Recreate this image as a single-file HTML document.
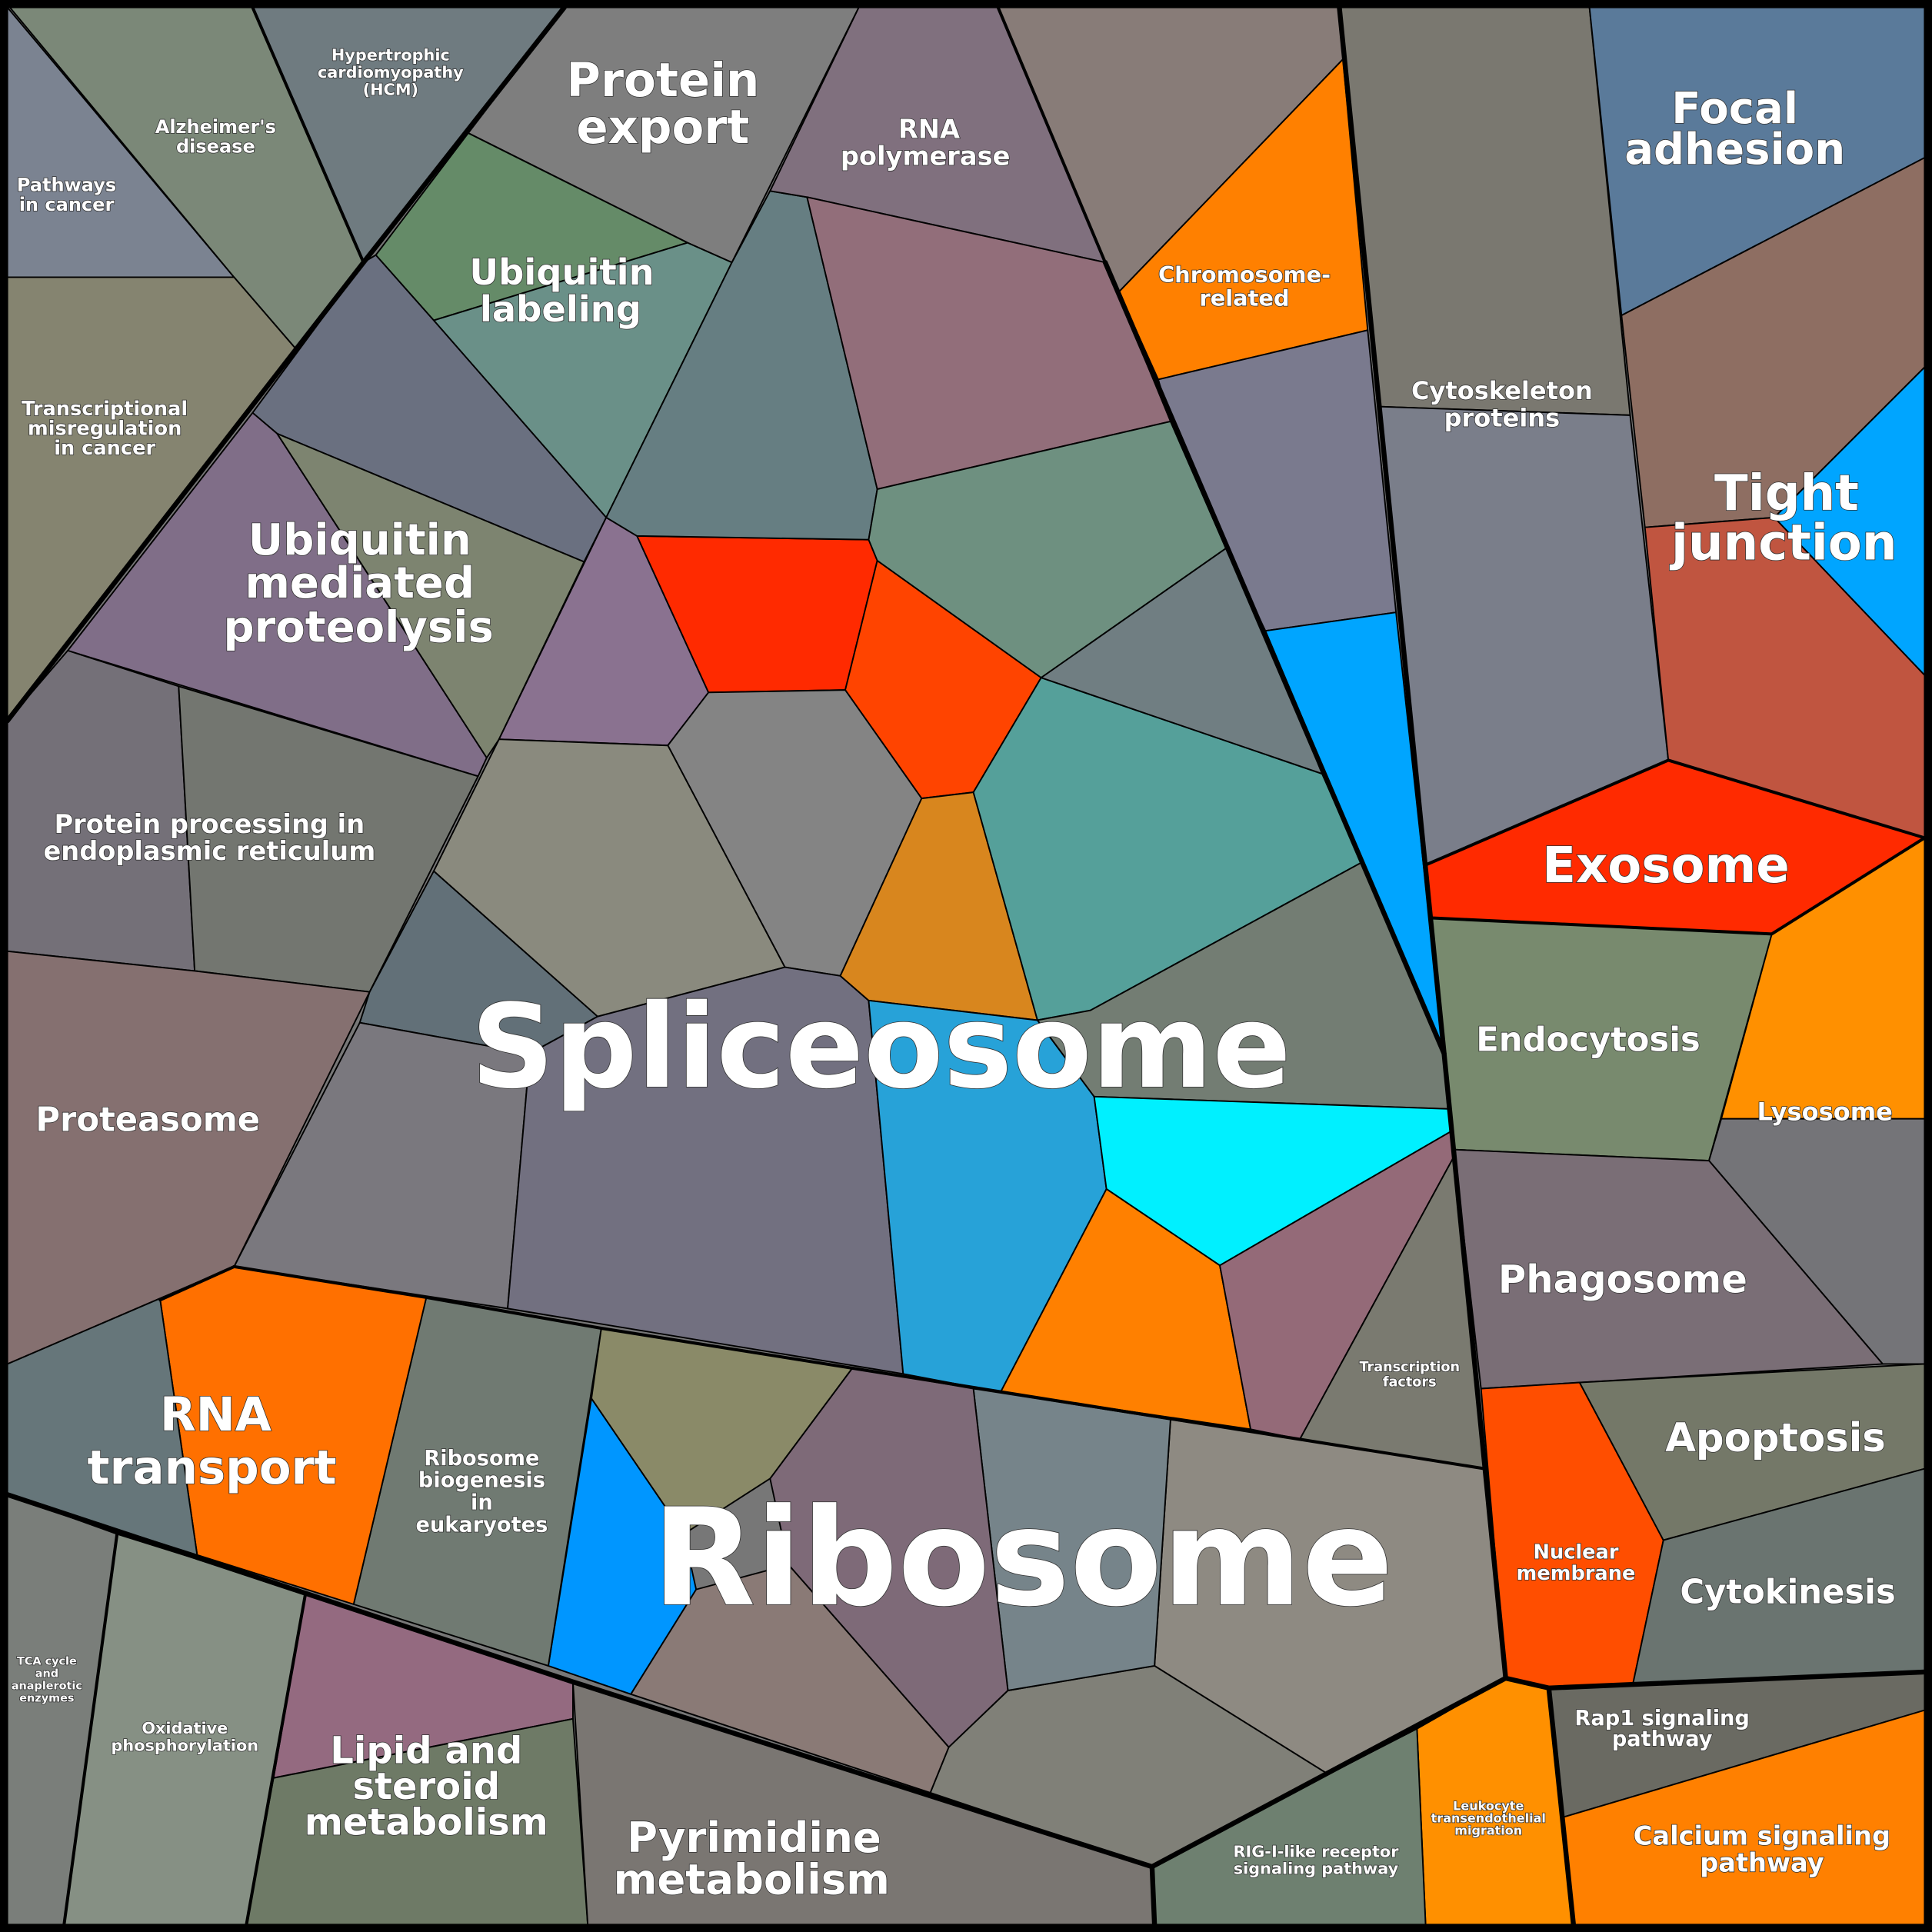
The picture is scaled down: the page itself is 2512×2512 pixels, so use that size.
<!DOCTYPE html>
<html><head><meta charset="utf-8"><style>
html,body{margin:0;padding:0;background:#000}
svg{display:block}
text{font-family:"DejaVu Sans","Liberation Sans",sans-serif;font-weight:bold;fill:#fff;text-anchor:middle;stroke:#333;stroke-width:1;paint-order:stroke}
polygon{stroke:#000;stroke-width:1.2;stroke-linejoin:round}
.t{fill:none;stroke:#000;stroke-width:4;stroke-linejoin:round;stroke-linecap:round}
.m{fill:none;stroke:#000;stroke-width:2.5;stroke-linejoin:round;stroke-linecap:round}
</style></head><body>
<svg width="2512" height="2512" viewBox="0 0 1568 1568" xmlns="http://www.w3.org/2000/svg">
<rect width="1568" height="1568" fill="#777"/>
<polygon fill="#7b8391" points="6,6 190,225 6,225"/>
<polygon fill="#7b8878" points="8,6 205,6 295,213 240,283 190,225"/>
<polygon fill="#6f7b80" points="205,6 458,6 295,213"/>
<polygon fill="#858470" points="6,225 190,225 240,283 6,585"/>
<polygon fill="#7e7e7e" points="458,6 697,6 594,213 558,197 380,108"/>
<polygon fill="#658b68" points="380,108 558,197 352,260 305,207"/>
<polygon fill="#6a9088" points="558,197 594,213 492,420 352,260"/>
<polygon fill="#6a7080" points="295,213 305,207 352,260 492,420 474,456 225,352 205,335"/>
<polygon fill="#806e88" points="205,335 225,352 395,615 388,630 55,528"/>
<polygon fill="#7d8470" points="225,352 474,456 405,600 395,615"/>
<polygon fill="#747078" points="6,585 55,528 145,557 158,788 6,772"/>
<polygon fill="#737670" points="145,557 388,630 300,805 158,788"/>
<polygon fill="#857070" points="6,772 158,788 300,805 190,1028 6,1107"/>
<polygon fill="#8a7290" points="492,420 517,435 575,562 542,605 405,600"/>
<polygon fill="#ff2a00" points="517,435 705,438 712,455 686,560 575,562"/>
<polygon fill="#ff4400" points="712,455 845,550 790,643 748,648 686,560"/>
<polygon fill="#848484" points="575,562 686,560 748,648 682,792 637,785 542,605"/>
<polygon fill="#8a8a7e" points="405,600 542,605 637,785 485,825 352,707"/>
<polygon fill="#627078" points="352,707 485,825 430,855 292,830 300,805"/>
<polygon fill="#7a787e" points="292,830 430,855 412,1062 190,1028"/>
<polygon fill="#727080" points="430,855 485,825 637,785 682,792 705,812 733,1115 412,1062"/>
<polygon fill="#d8861e" points="748,648 790,643 842,828 705,812 682,792"/>
<polygon fill="#27a2d8" points="705,812 842,828 888,890 898,965 812,1130 733,1115"/>
<polygon fill="#55a09a" points="790,643 845,550 1073,628 1105,700 885,820 842,828"/>
<polygon fill="#737d73" points="842,828 885,820 1105,700 1172,855 1175,900 888,890"/>
<polygon fill="#00f0ff" points="888,890 1175,900 1178,918 990,1027 898,965"/>
<polygon fill="#ff8000" points="898,965 990,1027 1015,1160 812,1130"/>
<polygon fill="#946a78" points="990,1027 1178,918 1182,935 1055,1168 1015,1160"/>
<polygon fill="#7a7a70" points="1182,935 1205,1192 1055,1168"/>
<polygon fill="#667e82" points="625,155 655,160 712,397 705,438 517,435 492,420 594,213"/>
<polygon fill="#80707e" points="697,6 810,6 897,213 655,160 625,155"/>
<polygon fill="#926e7a" points="655,160 897,213 950,342 712,397"/>
<polygon fill="#6e9080" points="712,397 950,342 995,445 845,550 712,455 705,438"/>
<polygon fill="#707e82" points="845,550 995,445 1027,512 1073,628"/>
<polygon fill="#887c78" points="810,6 1087,6 1090,48 908,237 897,213"/>
<polygon fill="#ff8000" points="1090,48 1110,268 940,308 908,237"/>
<polygon fill="#7a7a8e" points="940,308 1110,268 1133,497 1027,512 995,445 950,342"/>
<polygon fill="#00a5ff" points="1027,512 1133,497 1172,855"/>
<polygon fill="#7a7870" points="1087,6 1290,6 1323,337 1120,330"/>
<polygon fill="#7a7e8a" points="1120,330 1323,337 1354,617 1157,702"/>
<polygon fill="#5a7a9a" points="1290,6 1562,6 1562,128 1316,256"/>
<polygon fill="#8e6e62" points="1316,256 1562,128 1562,298 1440,420 1335,428"/>
<polygon fill="#00a5ff" points="1440,420 1562,298 1562,548"/>
<polygon fill="#c05540" points="1335,428 1440,420 1562,548 1562,680 1354,617"/>
<polygon fill="#ff2a00" points="1157,702 1354,617 1562,680 1438,758 1162,745"/>
<polygon fill="#788a6e" points="1162,745 1438,758 1387,942 1180,933"/>
<polygon fill="#ff9000" points="1438,758 1562,680 1562,908 1397,908"/>
<polygon fill="#747478" points="1397,908 1562,908 1562,1107 1528,1107 1387,942"/>
<polygon fill="#7a6e76" points="1180,933 1387,942 1528,1107 1202,1127"/>
<polygon fill="#ff4e00" points="1202,1127 1282,1122 1350,1250 1325,1368 1257,1370 1222,1362"/>
<polygon fill="#747868" points="1282,1122 1562,1107 1562,1192 1350,1250"/>
<polygon fill="#6a7470" points="1350,1250 1562,1192 1562,1357 1325,1368"/>
<polygon fill="#6a6a62" points="1257,1370 1562,1357 1562,1388 1268,1475"/>
<polygon fill="#ff8000" points="1268,1475 1562,1388 1562,1562 1277,1562"/>
<polygon fill="#ff9000" points="1150,1403 1222,1362 1257,1370 1277,1562 1157,1562"/>
<polygon fill="#6e8070" points="935,1515 1078,1440 1150,1403 1157,1562 937,1562"/>
<polygon fill="#8e8a82" points="950,1152 1055,1168 1205,1192 1222,1362 1150,1403 1078,1440 937,1352"/>
<polygon fill="#808078" points="818,1372 937,1352 1078,1440 935,1515 755,1455 770,1418"/>
<polygon fill="#76848a" points="790,1127 950,1152 937,1352 818,1372"/>
<polygon fill="#7e6a78" points="692,1110 790,1127 818,1372 770,1418 640,1270 625,1200"/>
<polygon fill="#8a8a68" points="488,1078 692,1110 625,1200 555,1245 480,1135"/>
<polygon fill="#0096ff" points="480,1135 555,1245 565,1290 512,1375 445,1352"/>
<polygon fill="#8a7a76" points="565,1290 640,1270 770,1418 755,1455 512,1375"/>
<polygon fill="#707a72" points="346,1053 488,1078 445,1352 287,1302"/>
<polygon fill="#ff7000" points="130,1055 190,1028 346,1053 287,1302 160,1262"/>
<polygon fill="#66767a" points="6,1107 190,1028 130,1055 160,1262 6,1213"/>
<polygon fill="#7a7e7a" points="6,1213 95,1245 52,1562 6,1562"/>
<polygon fill="#869084" points="95,1245 248,1293 200,1562 52,1562"/>
<polygon fill="#946a80" points="248,1293 465,1365 465,1395 222,1443"/>
<polygon fill="#6e7a66" points="222,1443 465,1395 477,1562 200,1562"/>
<polygon fill="#7a7672" points="465,1365 935,1515 937,1562 477,1562"/>

<polyline class="t" points="458,6 295,213 6,585"/>
<polyline class="m" points="205,6 295,213"/>
<polyline class="m" points="810,6 897,213"/>
<polyline class="t" points="897,213 1172,855"/>
<polyline class="t" points="1087,6 1172,855 1222,1362 1257,1370 1562,1357"/>
<polyline class="t" points="6,1213 465,1365 935,1515 1222,1362"/>
<polyline class="m" points="190,1028 346,1053 488,1078 1205,1192"/>
<polyline class="m" points="130,1055 190,1028"/>
<polyline class="t" points="1257,1370 1277,1562"/>
<polyline class="t" points="935,1515 937,1562"/>
<polyline class="m" points="95,1245 52,1562"/>
<polyline class="m" points="248,1293 200,1562"/>
<polyline class="m" points="1157,702 1354,617 1562,680 1438,758 1162,745"/>
<rect x="3" y="3" width="1562" height="1562" fill="none" stroke="#000" stroke-width="7"/>

<text x="54" y="155" font-size="15">Pathways</text><text x="54" y="171" font-size="15">in cancer</text>
<text x="175" y="108" font-size="15">Alzheimer's</text><text x="175" y="124" font-size="15">disease</text>
<text x="317" y="49" font-size="13">Hypertrophic</text><text x="317" y="63" font-size="13">cardiomyopathy</text><text x="317" y="77" font-size="13">(HCM)</text>
<text x="85" y="337" font-size="16">Transcriptional</text><text x="85" y="353" font-size="16">misregulation</text><text x="85" y="369" font-size="16">in cancer</text>
<text x="538" y="78" font-size="38">Protein</text><text x="538" y="116" font-size="38">export</text>
<text x="754" y="112" font-size="21">RNA</text><text x="751" y="134" font-size="21">polymerase</text>
<text x="1010" y="229" font-size="18">Chromosome-</text><text x="1010" y="248" font-size="18">related</text>
<text x="1408" y="100" font-size="35">Focal</text><text x="1408" y="133" font-size="35">adhesion</text>
<text x="456" y="231" font-size="29">Ubiquitin</text><text x="455" y="261" font-size="29">labeling</text>
<text x="1219" y="324" font-size="20">Cytoskeleton</text><text x="1219" y="346" font-size="20">proteins</text>
<text x="1450" y="414" font-size="40">Tight</text><text x="1448" y="454" font-size="40">junction</text>
<text x="292" y="450" font-size="35">Ubiquitin</text><text x="292" y="485" font-size="35">mediated</text><text x="291" y="521" font-size="35">proteolysis</text>
<text x="170" y="676" font-size="21">Protein processing in</text><text x="170" y="698" font-size="21">endoplasmic reticulum</text>
<text x="1352" y="716" font-size="40">Exosome</text>
<text x="715" y="882" font-size="94">Spliceosome</text>
<text x="1289" y="853" font-size="27">Endocytosis</text>
<text x="1481" y="909" font-size="20">Lysosome</text>
<text x="120" y="918" font-size="27">Proteasome</text>
<text x="1317" y="1049" font-size="31">Phagosome</text>
<text x="1144" y="1113" font-size="11">Transcription</text><text x="1144" y="1125" font-size="11">factors</text>
<text x="175" y="1161" font-size="38">RNA</text><text x="172" y="1204" font-size="38">transport</text>
<text x="391" y="1189" font-size="17">Ribosome</text><text x="391" y="1207" font-size="17">biogenesis</text><text x="391" y="1225" font-size="17">in</text><text x="391" y="1243" font-size="17">eukaryotes</text>
<text x="1441" y="1178" font-size="32">Apoptosis</text>
<text x="830" y="1302" font-size="109">Ribosome</text>
<text x="1279" y="1265" font-size="16">Nuclear</text><text x="1279" y="1282" font-size="16">membrane</text>
<text x="1451" y="1301" font-size="27">Cytokinesis</text>
<text x="38" y="1351" font-size="9" stroke-width="0.5">TCA cycle</text><text x="38" y="1361" font-size="9" stroke-width="0.5">and</text><text x="38" y="1371" font-size="9" stroke-width="0.5">anaplerotic</text><text x="38" y="1381" font-size="9" stroke-width="0.5">enzymes</text>
<text x="150" y="1407" font-size="13">Oxidative</text><text x="150" y="1421" font-size="13">phosphorylation</text>
<text x="346" y="1431" font-size="30">Lipid and</text><text x="346" y="1460" font-size="30">steroid</text><text x="346" y="1489" font-size="30">metabolism</text>
<text x="1349" y="1400" font-size="17">Rap1 signaling</text><text x="1349" y="1417" font-size="17">pathway</text>
<text x="1208" y="1469" font-size="10" stroke-width="0.5">Leukocyte</text><text x="1208" y="1479" font-size="10" stroke-width="0.5">transendothelial</text><text x="1208" y="1489" font-size="10" stroke-width="0.5">migration</text>
<text x="612" y="1503" font-size="34">Pyrimidine</text><text x="610" y="1537" font-size="34">metabolism</text>
<text x="1068" y="1507" font-size="13">RIG-I-like receptor</text><text x="1068" y="1521" font-size="13">signaling pathway</text>
<text x="1430" y="1497" font-size="21">Calcium signaling</text><text x="1430" y="1519" font-size="21">pathway</text>
</svg>
</body></html>
